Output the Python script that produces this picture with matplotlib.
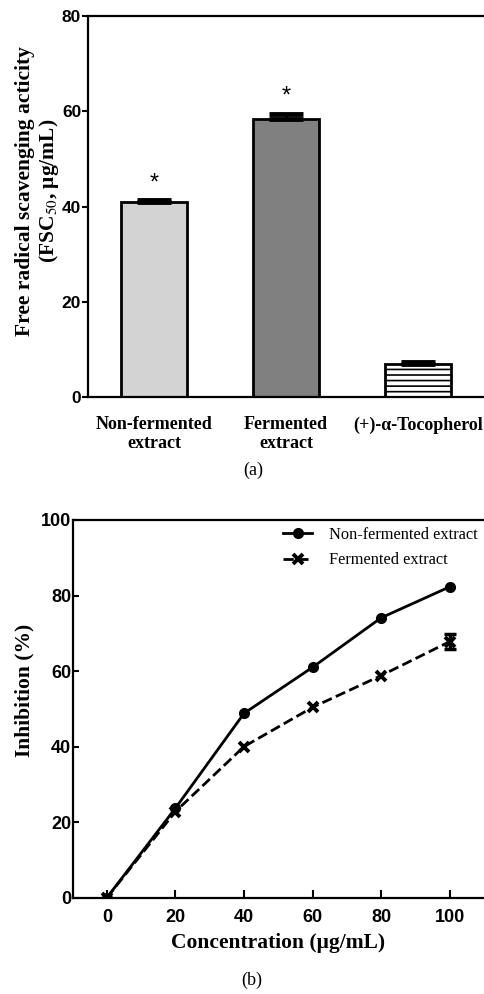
import matplotlib
matplotlib.use('Agg')
import matplotlib.pyplot as plt
import numpy as np

# data for panel (a): FSC50 values
groups = ['Non-fermented\nextract', 'Fermented\nextract', '(+)-α-Tocopherol']
fsc50 = [41.0, 58.3, 6.9]
fsc50_err = [0.4, 1.2, 0.4]
asterisk = ['*', '*', '']

# data for panel (b): inhibition vs concentration
conc = [0, 20, 40, 60, 80, 100]
inh_nonferm = [0.0, 23.7, 48.8, 61.0, 74.1, 82.3]
inh_ferm = [0.0, 22.8, 40.0, 50.4, 58.8, 67.8]
# only the last point has a visible error bar
err_conc = [100]
err_val = [67.8]
err_sd = [2.0]

plt.rcParams['mathtext.fontset'] = 'stix'
serif = 'Liberation Serif'
sans = 'Liberation Sans'
plt.rcParams['hatch.linewidth'] = 1.2

fig = plt.figure(figsize=(4.84, 9.94), dpi=100)

# ---------- panel (a) ----------
ax1 = fig.add_axes([0.182, 0.6006, 0.818, 0.3833])
x = np.arange(len(groups))
colors = ['#d3d3d3', '#808080', 'white']
hatches = [None, None, '---']
for i in range(len(groups)):
    ax1.bar(x[i], fsc50[i], 0.5, color=colors[i], edgecolor='black', linewidth=2, hatch=hatches[i], zorder=2)
ax1.errorbar(x, fsc50, yerr=[np.zeros(len(fsc50)), fsc50_err], fmt='none', ecolor='black',
             elinewidth=2, capsize=12, capthick=3.5, zorder=3)
for i in range(len(groups)):
    if asterisk[i]:
        ax1.text(x[i], fsc50[i] + fsc50_err[i] + 1.2, asterisk[i], ha='center', va='bottom',
                 fontsize=17, family=sans)

ax1.set_xlim(-0.5, 2.5)
ax1.set_ylim(0, 80)
ax1.set_yticks([0, 20, 40, 60, 80])
ax1.set_xticks(x)
ax1.set_xticklabels(groups, family=serif, fontweight='bold', fontsize=13, linespacing=1.1)
ax1.tick_params(axis='x', length=0, pad=14)
ax1.tick_params(axis='y', direction='out', length=4, width=1.5, labelsize=12.5, pad=1)
for lab in ax1.get_yticklabels():
    lab.set_family(sans)
    lab.set_fontweight('bold')
ax1.set_ylabel('Free radical scavenging acticity\n(FSC$_{50}$, μg/mL)', family=serif,
               fontweight='bold', fontsize=15.5, linespacing=1.15, labelpad=0.5)
ax1.yaxis.label.set_y(0.54)
for s in ['left', 'bottom', 'top']:
    ax1.spines[s].set_linewidth(1.6)
ax1.spines['right'].set_visible(False)

fig.text(0.523, 0.527, '(a)', ha='center', va='center', family=serif, fontsize=13)

# ---------- panel (b) ----------
ax2 = fig.add_axes([0.150, 0.0969, 0.850, 0.3800])
ax2.plot(conc, inh_nonferm, '-', color='black', lw=2, marker='o', markersize=7,
         label='Non-fermented extract', zorder=3)
ax2.plot(conc, inh_ferm, '--', color='black', lw=2, marker='x', markersize=7, mew=2.8,
         label='Fermented extract', zorder=3)
ax2.errorbar(err_conc, err_val, yerr=err_sd, fmt='none', ecolor='black',
             capsize=4, capthick=2.5, elinewidth=2.5, zorder=3)
ax2.set_xlim(-10, 110)
ax2.set_ylim(0, 100)
ax2.set_xticks(conc)
ax2.set_yticks([0, 20, 40, 60, 80, 100])
ax2.tick_params(axis='both', direction='in', width=1.5, labelsize=13)
ax2.tick_params(axis='x', length=6, pad=8)
ax2.tick_params(axis='y', length=4, pad=1)
for lab in ax2.get_xticklabels() + ax2.get_yticklabels():
    lab.set_family(sans)
    lab.set_fontweight('bold')
ax2.set_xlabel('Concentration (μg/mL)', family=serif, fontweight='bold', fontsize=15.5, labelpad=5)
ax2.set_ylabel('Inhibition (%)', family=serif, fontweight='bold', fontsize=15.5, labelpad=5)
ax2.yaxis.label.set_y(0.55)
for s in ['left', 'bottom', 'top']:
    ax2.spines[s].set_linewidth(1.6)
ax2.spines['right'].set_visible(False)
ax2.legend(loc='upper right', frameon=False, prop={'family': serif, 'size': 11.8},
           handlelength=1.8, handletextpad=1.0, borderaxespad=0.0, labelspacing=0.6)

fig.text(0.521, 0.014, '(b)', ha='center', va='center', family=serif, fontsize=13)

fig.savefig('out.png', dpi=100)
